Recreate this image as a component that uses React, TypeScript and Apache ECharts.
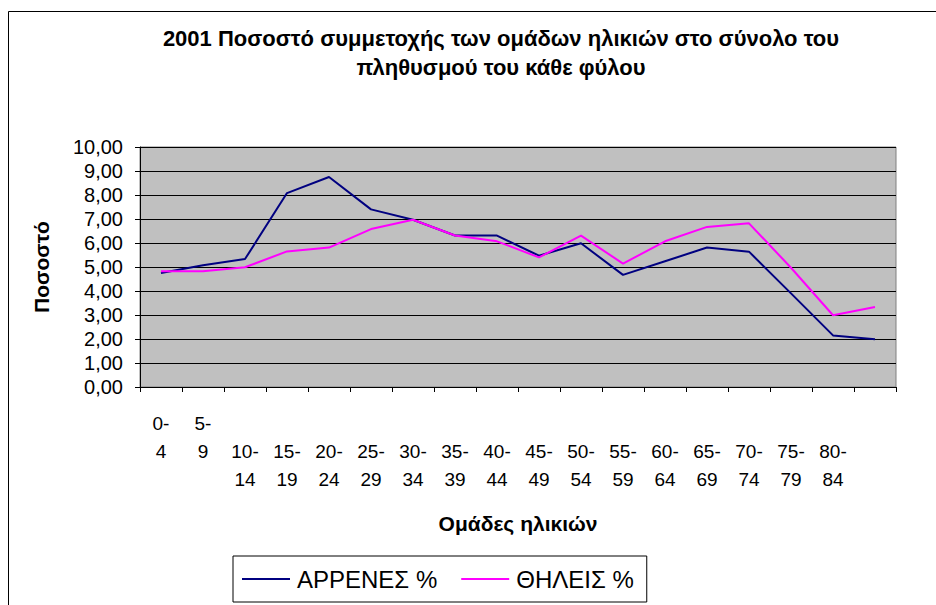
import React, { useEffect, useRef } from "react";
import * as echarts from "echarts";

const categories = [
  "0-4", "5-9", "10-14", "15-19", "20-24", "25-29", "30-34", "35-39", "40-44",
  "45-49", "50-54", "55-59", "60-64", "65-69", "70-74", "75-79", "80-84", "",
];
const males = [4.75, 5.07, 5.33, 8.08, 8.75, 7.4, 6.97, 6.31, 6.31, 5.47, 5.99, 4.67, 5.24, 5.81, 5.64, 3.9, 2.15, 1.99];
const females = [4.82, 4.82, 4.99, 5.65, 5.81, 6.58, 6.97, 6.31, 6.07, 5.4, 6.31, 5.14, 6.07, 6.67, 6.82, 4.97, 2.99, 3.33];
const seriesNames = ["ΑΡΡΕΝΕΣ %", "ΘΗΛΕΙΣ %"];
const titleText = "2001 Ποσοστό συμμετοχής των ομάδων ηλικιών στο σύνολο του\nπληθυσμού του κάθε φύλου";
const xTitle = "Ομάδες ηλικιών";
const yTitle = "Ποσοστό";

const FONT = "'Liberation Sans', Arial, sans-serif";

export default function App() {
  const ref = useRef<HTMLDivElement>(null);
  useEffect(() => {
    if (!ref.current) return;
    const chart = echarts.init(ref.current, undefined, { renderer: "svg" });
    chart.setOption({
      animation: false,
      backgroundColor: "#ffffff",
      textStyle: { fontFamily: FONT, color: "#000" },
      title: {
        text: titleText,
        left: 501,
        top: 24,
        padding: 0,
        textAlign: "center",
        textStyle: { fontFamily: FONT, fontSize: 22, fontWeight: "bold", color: "#000", lineHeight: 29 },
      },
      graphic: [
        {
          type: "rect",
          shape: { x: 8.5, y: 11.5, width: 1200, height: 1200 },
          style: { fill: "none", stroke: "#000", lineWidth: 1 },
          silent: true,
          z: -1,
        },
      ],
      legend: {
        left: 233,
        top: 556,
        padding: [11, 13, 11, 9],
        itemGap: 24,
        itemWidth: 48,
        itemHeight: 2,
        icon: "rect",
        borderColor: "#000",
        borderWidth: 1,
        backgroundColor: "#fff",
        textStyle: { fontFamily: FONT, fontSize: 24, color: "#000", padding: [0, 0, 0, 2] },
        data: seriesNames,
      },
      grid: {
        left: 140,
        top: 147,
        width: 756,
        height: 240,
        show: true,
        backgroundColor: "#C0C0C0",
        borderColor: "#808080",
        borderWidth: 1,
        containLabel: false,
      },
      xAxis: {
        type: "category",
        data: categories,
        boundaryGap: true,
        name: xTitle,
        nameLocation: "middle",
        nameGap: 126,
        nameTextStyle: { fontFamily: FONT, fontSize: 21, fontWeight: "bold", color: "#000" },
        axisLine: { show: true, lineStyle: { color: "#000", width: 1 } },
        axisTick: { show: true, length: 5, alignWithLabel: false, interval: 0, lineStyle: { color: "#000" } },
        axisLabel: {
          interval: 0,
          margin: 22,
          fontFamily: FONT,
          fontSize: 19,
          color: "#000",
          lineHeight: 28,
          verticalAlign: "top",
          formatter: (v: string, i: number) => {
            if (!v) return "";
            const parts = v.split("-");
            const txt = parts[0] + "-\n" + parts[1];
            return i < 2 ? txt : "\n" + txt;
          },
        },
        splitLine: { show: false },
      },
      yAxis: {
        type: "value",
        min: 0,
        max: 10,
        interval: 1,
        name: yTitle,
        nameLocation: "middle",
        nameRotate: 90,
        nameGap: 88,
        nameTextStyle: { fontFamily: FONT, fontSize: 21, fontWeight: "bold", color: "#000" },
        axisLine: { show: true, lineStyle: { color: "#000", width: 1 } },
        axisTick: { show: true, length: 5, lineStyle: { color: "#000" } },
        axisLabel: {
          margin: 17,
          fontFamily: FONT,
          fontSize: 20,
          color: "#000",
          formatter: (v: number) => v.toFixed(2).replace(".", ","),
        },
        splitLine: { show: true, lineStyle: { color: "#000", width: 1 } },
      },
      series: [
        {
          name: seriesNames[0],
          type: "line",
          data: males,
          symbol: "none",
          lineStyle: { color: "#000080", width: 2 },
          itemStyle: { color: "#000080" },
        },
        {
          name: seriesNames[1],
          type: "line",
          data: females,
          symbol: "none",
          lineStyle: { color: "#FF00FF", width: 2 },
          itemStyle: { color: "#FF00FF" },
        },
      ],
    });
    return () => chart.dispose();
  }, []);
  return (
    <div
      ref={ref}
      style={{ position: "fixed", left: 0, top: 0, width: 936, height: 605, background: "#fff" }}
    />
  );
}
